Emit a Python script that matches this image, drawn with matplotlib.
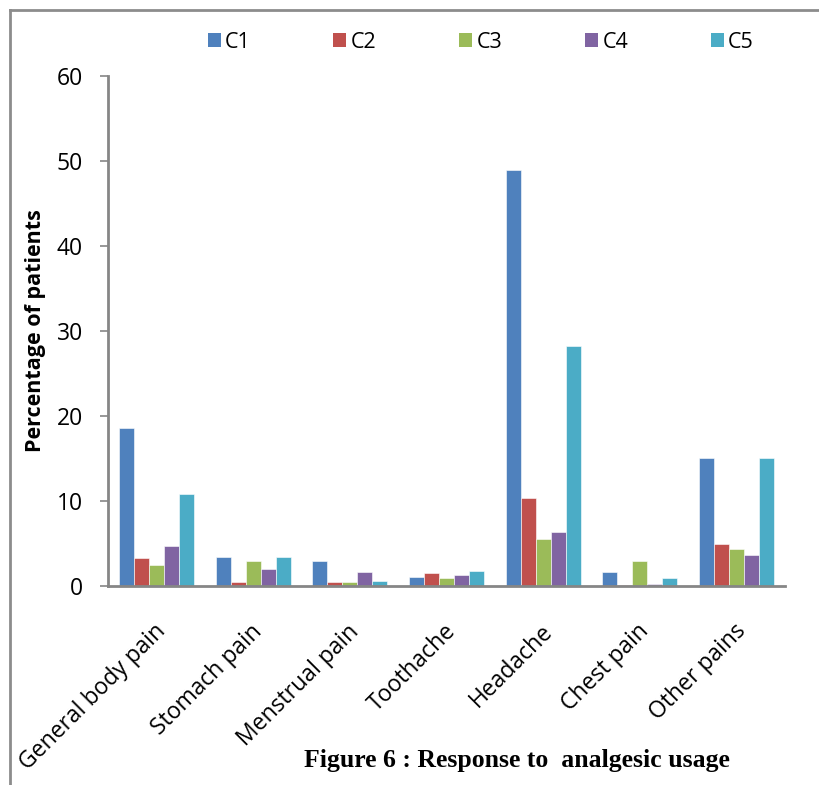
import numpy as np
import matplotlib.pyplot as plt
from matplotlib.lines import Line2D
from matplotlib.patches import Patch
from matplotlib.transforms import ScaledTranslation

categories = ["General body pain", "Stomach pain", "Menstrual pain", "Toothache",
              "Headache", "Chest pain", "Other pains"]
series_names = ["C1", "C2", "C3", "C4", "C5"]
c1 = [18.6, 3.4, 2.9, 1.1, 48.9, 1.7, 15.1]
c2 = [3.3, 0.5, 0.5, 1.5, 10.4, 0.1, 4.9]
c3 = [2.5, 2.9, 0.5, 0.9, 5.5, 2.9, 4.3]
c4 = [4.7, 2.0, 1.6, 1.3, 6.4, 0.2, 3.6]
c5 = [10.8, 3.4, 0.6, 1.8, 28.2, 0.9, 15.1]
yticks = [0, 10, 20, 30, 40, 50, 60]

colors = ["#4F81BD", "#C0504D", "#9BBB59", "#8064A2", "#4BACC6"]

plt.rcParams["font.family"] = ["Open Sans", "DejaVu Sans"]

fig = plt.figure(figsize=(8.19, 7.85), dpi=100)
ax = fig.add_axes([108 / 819, 1 - 586 / 785, (785 - 108) / 819, (586 - 76) / 785])

x = np.arange(len(categories))
width = 0.155
for i, (vals, col) in enumerate(zip([c1, c2, c3, c4, c5], colors)):
    ax.bar(x + (i - 2) * width, vals, width, color=col,
           edgecolor="white", linewidth=0.4)

ax.set_xlim(-0.5, len(categories) - 0.5)
ax.set_ylim(0, 60)
ax.set_yticks(yticks)
ax.tick_params(axis="y", labelsize=16.5, length=6, width=1.2, color="#868686", pad=12)
ax.tick_params(axis="x", length=0, pad=4)
ax.set_xticks(x)
ax.set_xticklabels(categories, rotation=45, ha="right", rotation_mode="anchor",
                   fontsize=16.5)
shift = ScaledTranslation(-0.03, -0.28, fig.dpi_scale_trans)
for lab in ax.get_xticklabels():
    lab.set_transform(lab.get_transform() + shift)

for side in ["top", "right"]:
    ax.spines[side].set_visible(False)
for side in ["left", "bottom"]:
    ax.spines[side].set_color("#868686")
    ax.spines[side].set_linewidth(2)

ax.set_ylabel("Percentage of patients", fontsize=15.5, fontweight="bold", labelpad=8)

handles = [Patch(facecolor=c, edgecolor="none") for c in colors]
fig.legend(handles, series_names, loc="center", bbox_to_anchor=(0.587, 1 - 42 / 785),
           ncol=5, frameon=False, fontsize=15.5, handlelength=0.6, handleheight=0.6,
           handletextpad=0.2, columnspacing=3.85)

fig.text(517 / 819, 1 - 760 / 785, "Figure 6 : Response to  analgesic usage",
         ha="center", va="center", fontsize=18.5, fontweight="bold",
         family="Liberation Serif")

# outer frame (left and top edges)
fig.add_artist(Line2D([10 / 819, 10 / 819], [0, 1 - 10 / 785], color="#8c8c8c", lw=2))
fig.add_artist(Line2D([10 / 819, 1], [1 - 10 / 785, 1 - 10 / 785], color="#8c8c8c", lw=2))

fig.savefig("out.png", dpi=100)
